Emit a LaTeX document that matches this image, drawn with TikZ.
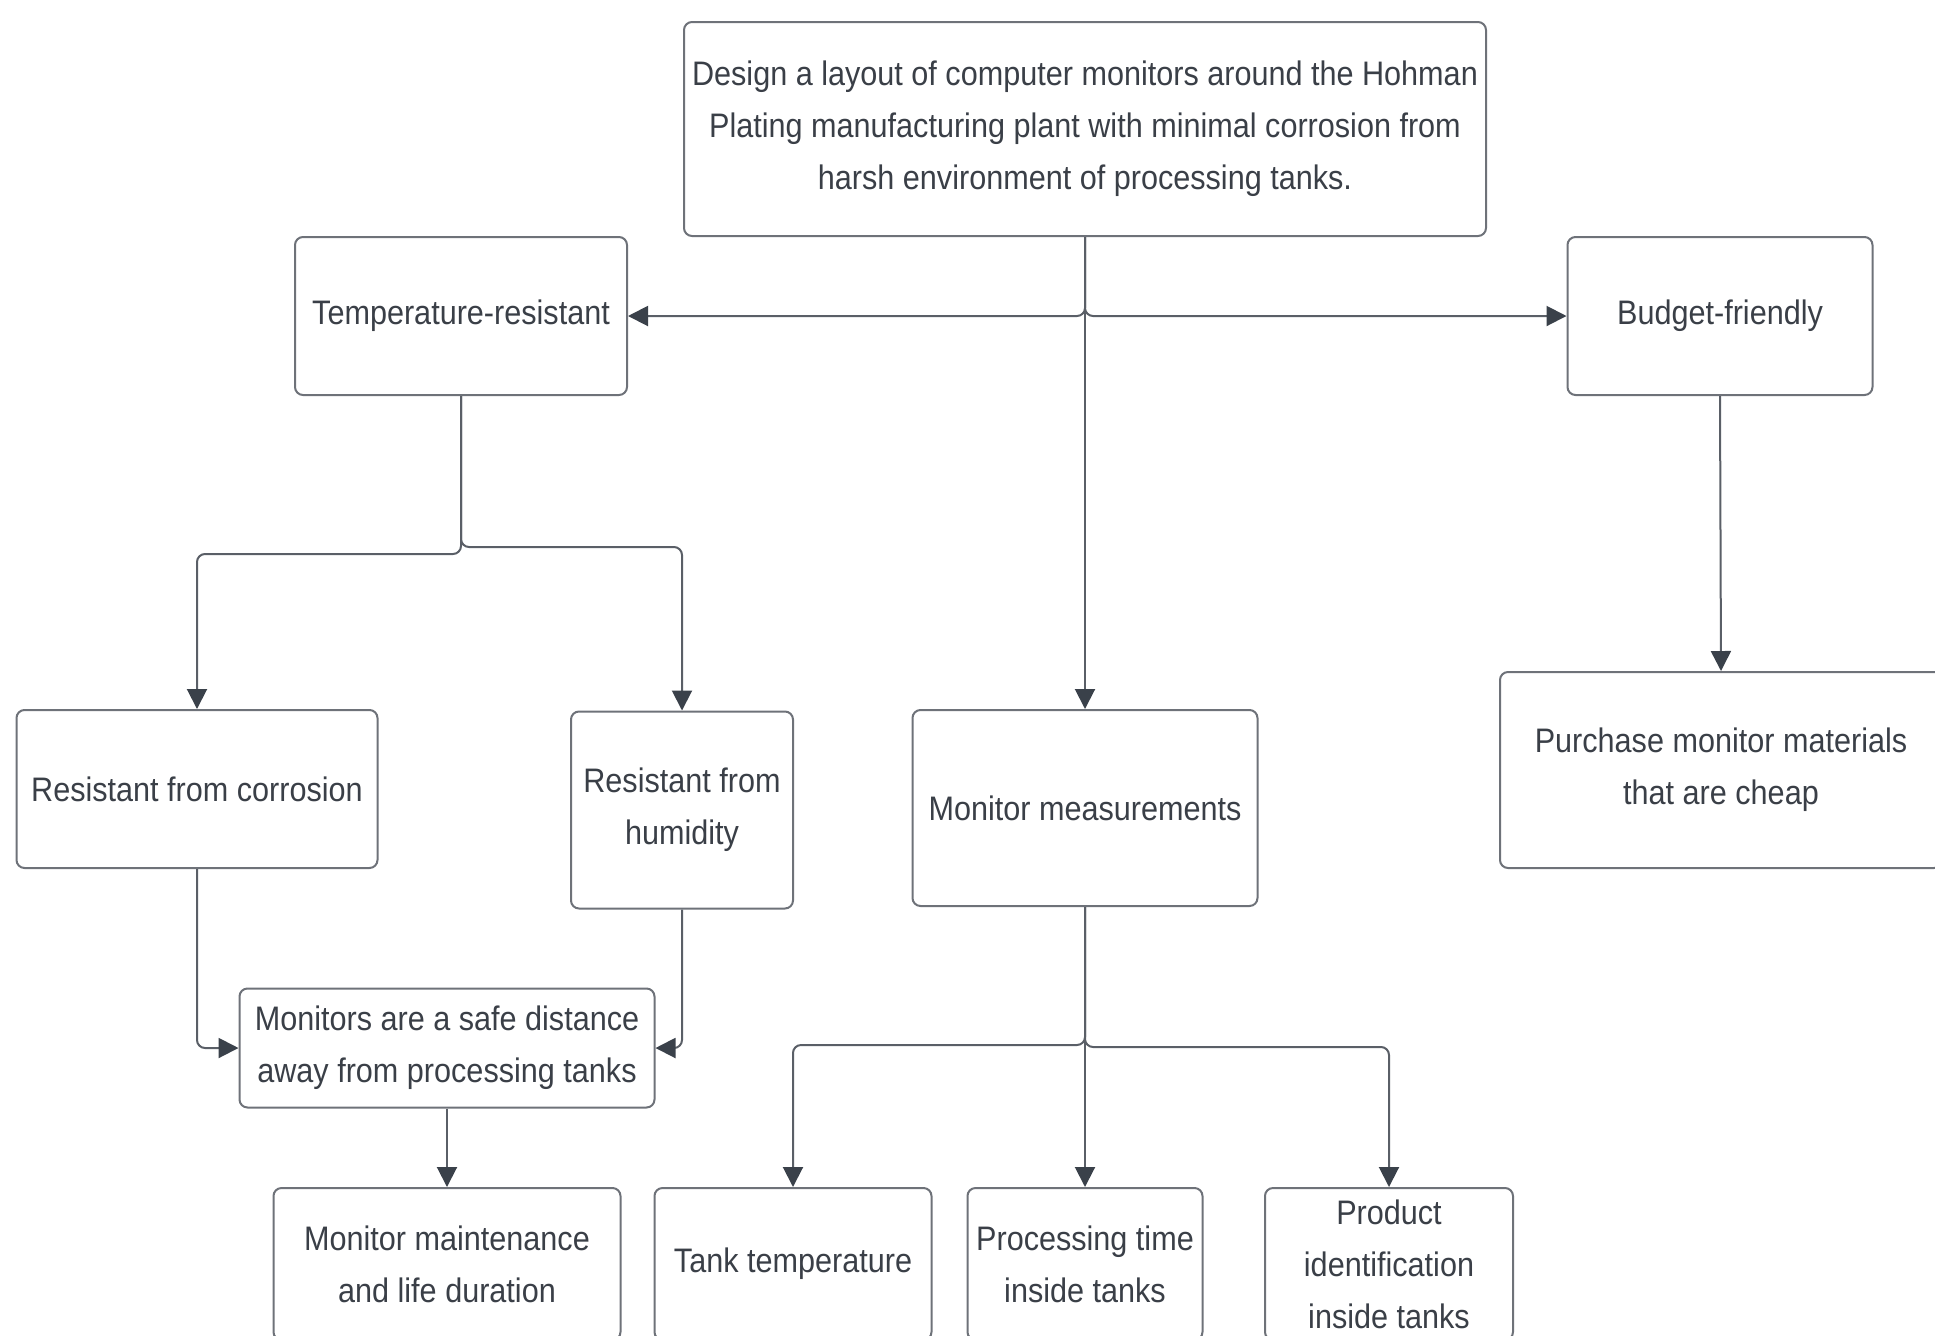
\documentclass[tikz,border=0pt]{standalone}
\usepackage{fontspec}
\setmainfont{Liberation Sans}[FakeStretch=0.9]
\usetikzlibrary{arrows.meta}
\definecolor{boxline}{HTML}{6E7279}
\definecolor{wire}{HTML}{5A5F67}
\definecolor{tip}{HTML}{3A414A}
\definecolor{ink}{HTML}{3A3F47}

\begin{document}
\begin{tikzpicture}[x=0.5pt, y=-0.5pt,
	every node/.style={font=\fontsize{17}{26}\selectfont, text=ink},
	block/.style={draw=boxline, line width=1pt, rounded corners=4pt, align=center, inner sep=0pt},
	link/.style={draw=wire, line width=1pt, rounded corners=4pt, -{Triangle[length=10pt, width=10pt, fill=tip, color=tip]}}]
	\useasboundingbox (0,0) rectangle (1935,1335);
	% top level
	\node[block, minimum width=401pt, minimum height=107pt] (goal) at (1085,129) {Design a layout of computer monitors around the Hohman\\Plating manufacturing plant with minimal corrosion from\\harsh environment of processing tanks.};
	\node[block, minimum width=166pt, minimum height=79pt] (temp) at (461,316) {Temperature-resistant};
	\node[block, minimum width=152.5pt, minimum height=79pt] (budget) at (1720,316) {Budget-friendly};
	% second level
	\node[block, minimum width=180.5pt, minimum height=79pt] (corr) at (197,789) {Resistant from corrosion};
	\node[block, minimum width=111pt, minimum height=98.5pt] (humid) at (682,810) {Resistant from\\humidity};
	\node[block, minimum width=172.5pt, minimum height=98pt] (meas) at (1085,808) {Monitor measurements};
	\node[block, minimum width=221pt, minimum height=98pt] (cheap) at (1721,770) {Purchase monitor materials\\that are cheap};
	\node[block, minimum width=207.5pt, minimum height=59.5pt] (safe) at (447,1048) {Monitors are a safe distance\\away from processing tanks};
	% bottom row
	\node[block, minimum width=173.5pt, minimum height=76pt] (maint) at (447,1264) {Monitor maintenance\\and life duration};
	\node[block, minimum width=138.5pt, minimum height=76pt] (tank) at (793,1264) {Tank temperature};
	\node[block, minimum width=117.5pt, minimum height=76pt] (ptime) at (1085,1264) {Processing time\\inside tanks};
	\node[block, minimum width=124pt, minimum height=76pt] (ident) at (1389,1264) {Product\\identification\\inside tanks};
	% connectors
	\draw[link] (goal.south) |- (temp.east);
	\draw[link] (goal.south) |- (budget.west);
	\draw[link] (goal.south) -- (meas.north);
	\draw[link] (temp.south) -- ++(0,158) -| (corr.north);
	\draw[link] (temp.south) -- ++(0,151) -| (humid.north);
	\draw[link] (corr.south) |- (safe.west);
	\draw[link] (humid.south) |- (safe.east);
	\draw[link] (safe.south) -- (maint.north);
	\draw[link] (budget.south) -- (cheap.north);
	\draw[link] (meas.south) -- ++(0,138) -| (tank.north);
	\draw[link] (meas.south) -- (ptime.north);
	\draw[link] (meas.south) -- ++(0,140) -| (ident.north);
\end{tikzpicture}
\end{document}
